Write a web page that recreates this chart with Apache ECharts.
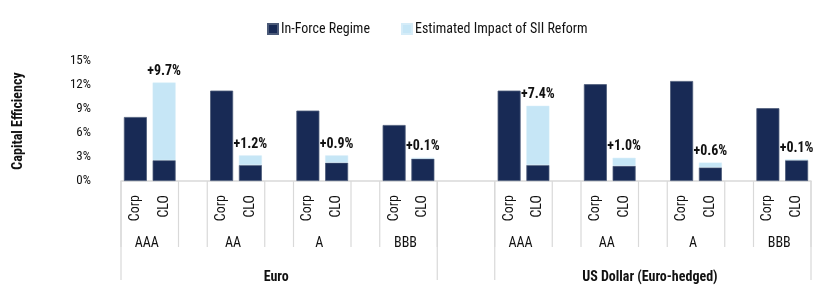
<!DOCTYPE html>
<html>
<head>
<meta charset="utf-8">
<script src="https://cdn.jsdelivr.net/npm/echarts@6/dist/echarts.min.js"></script>
<style>
html,body{margin:0;padding:0;background:#fff;}
#chart{width:830px;height:300px;}
</style>
</head>
<body>
<div id="chart"></div>
<script>
// ---- data ----
const regions = ['Euro', 'US Dollar (Euro-hedged)'];
const ratings = ['AAA', 'AA', 'A', 'BBB'];
const instruments = ['Corp', 'CLO'];
const seriesNames = ['In-Force Regime', 'Estimated Impact of SII Reform'];
// per region: [AAA Corp, AAA CLO, AA Corp, AA CLO, A Corp, A CLO, BBB Corp, BBB CLO]
const inForceEuro = [8.0, 2.6, 11.3, 2.0, 8.8, 2.3, 7.0, 2.8];
const impactEuro  = [null, 9.7, null, 1.2, null, 0.9, null, 0.1];
const inForceUSD  = [11.3, 2.0, 12.1, 1.9, 12.5, 1.7, 9.1, 2.6];
const impactUSD   = [null, 7.4, null, 1.0, null, 0.6, null, 0.1];
const yTicks = [0, 3, 6, 9, 12, 15];

const inForce = [inForceEuro, inForceUSD];
const impact = [impactEuro, impactUSD];

// ---- build categories (with spacer slots) ----
const cats = [], d1 = [], d2 = [];
const groupInfo = [];   // {label, first, last}
const regionInfo = [];  // {label, first, last}
let spacer = 0;
function addSpacer(){ cats.push('_gap' + (spacer++)); d1.push(null); d2.push(null); }
regions.forEach((reg, r) => {
  if (r > 0) { addSpacer(); addSpacer(); }
  const rFirst = cats.length;
  ratings.forEach((rt, g) => {
    if (g > 0) addSpacer();
    const gFirst = cats.length;
    instruments.forEach((ins, k) => {
      const idx = g * 2 + k;
      cats.push(reg + '|' + rt + '|' + ins);
      d1.push(inForce[r][idx]);
      d2.push(impact[r][idx]);
    });
    groupInfo.push({label: rt, first: gFirst, last: cats.length - 1});
  });
  regionInfo.push({label: reg, first: rFirst, last: cats.length - 1});
});

const FONT = "'Liberation Sans Narrow', 'Roboto Condensed', 'DejaVu Sans Condensed', sans-serif";
const DARK = '#182a55';
const LIGHT = '#c6e6f6';
const LINE = '#d9d9d9';

const chart = echarts.init(document.getElementById('chart'), null, {renderer: 'canvas'});
const option = {
  animation: false,
  textStyle: {fontFamily: FONT},
  legend: {
    data: seriesNames,
    top: 17,
    left: 262,
    itemGap: 31,
    itemWidth: 10,
    itemHeight: 10,
    icon: 'rect',
    textStyle: {fontFamily: FONT, fontSize: 14, color: '#111', padding: [0, 0, 0, -2]}
  },
  grid: {left: 121, right: 19, top: 61, bottom: 119, containLabel: false},
  xAxis: {
    type: 'category',
    data: cats,
    axisLine: {lineStyle: {color: LINE, width: 1.5}},
    axisTick: {show: false},
    axisLabel: {
      interval: 0, rotate: 90, margin: 14,
      fontFamily: FONT, fontSize: 14, color: '#111',
      formatter: v => v.startsWith('_gap') ? '' : v.split('|')[2]
    }
  },
  yAxis: {
    type: 'value', min: yTicks[0], max: yTicks[yTicks.length - 1], interval: yTicks[1] - yTicks[0],
    axisLine: {show: false}, axisTick: {show: false}, splitLine: {show: false},
    axisLabel: {formatter: '{value}%', fontFamily: FONT, fontSize: 13, color: '#111', margin: 30},
    name: 'Capital Efficiency', nameLocation: 'middle', nameGap: 96, nameRotate: 90,
    nameTextStyle: {fontFamily: FONT, fontSize: 14, fontWeight: 'bold', color: '#111'}
  },
  series: [
    {
      name: seriesNames[0], type: 'bar', stack: 'ce', data: d1, barWidth: 23,
      itemStyle: {color: DARK, borderColor: '#4b5a78', borderWidth: 0.8}
    },
    {
      name: seriesNames[1], type: 'bar', stack: 'ce', data: d2, barWidth: 23,
      itemStyle: {color: LIGHT, borderColor: '#d5ecf8', borderWidth: 0.5},
      label: {
        show: true, position: 'top', distance: 4,
        fontFamily: FONT, fontSize: 14, fontWeight: 'bold', color: '#111',
        formatter: p => (p.value == null ? '' : '+' + Number(p.value).toFixed(1) + '%')
      }
    }
  ]
};
chart.setOption(option);

// ---- multi-level axis brackets, computed from the axis scale ----
function cx(i){ return chart.convertToPixel({xAxisIndex: 0}, i); }
const bw = cx(1) - cx(0);
const y0 = chart.convertToPixel({yAxisIndex: 0}, 0);
const els = [];
function vline(x, len){
  els.push({type: 'line', shape: {x1: x, y1: y0, x2: x, y2: y0 + len},
    style: {stroke: LINE, lineWidth: 1.2}, silent: true});
}
groupInfo.forEach(g => {
  const l = cx(g.first) - bw / 2, r = cx(g.last) + bw / 2;
  vline(l, 66); vline(r, 66);
  els.push({type: 'text', x: (l + r) / 2 - 3, y: y0 + 62,
    style: {text: g.label, font: '14px ' + FONT, fill: '#111', align: 'center', verticalAlign: 'middle'}, silent: true});
});
regionInfo.forEach(g => {
  const l = cx(g.first) - bw / 2, r = cx(g.last) + bw / 2;
  vline(l, 99); vline(r, 99);
  els.push({type: 'text', x: (l + r) / 2 - 3, y: y0 + 96,
    style: {text: g.label, font: 'bold 14px ' + FONT, fill: '#111', align: 'center', verticalAlign: 'middle'}, silent: true});
});
chart.setOption({graphic: {elements: els}});
</script>
</body>
</html>
